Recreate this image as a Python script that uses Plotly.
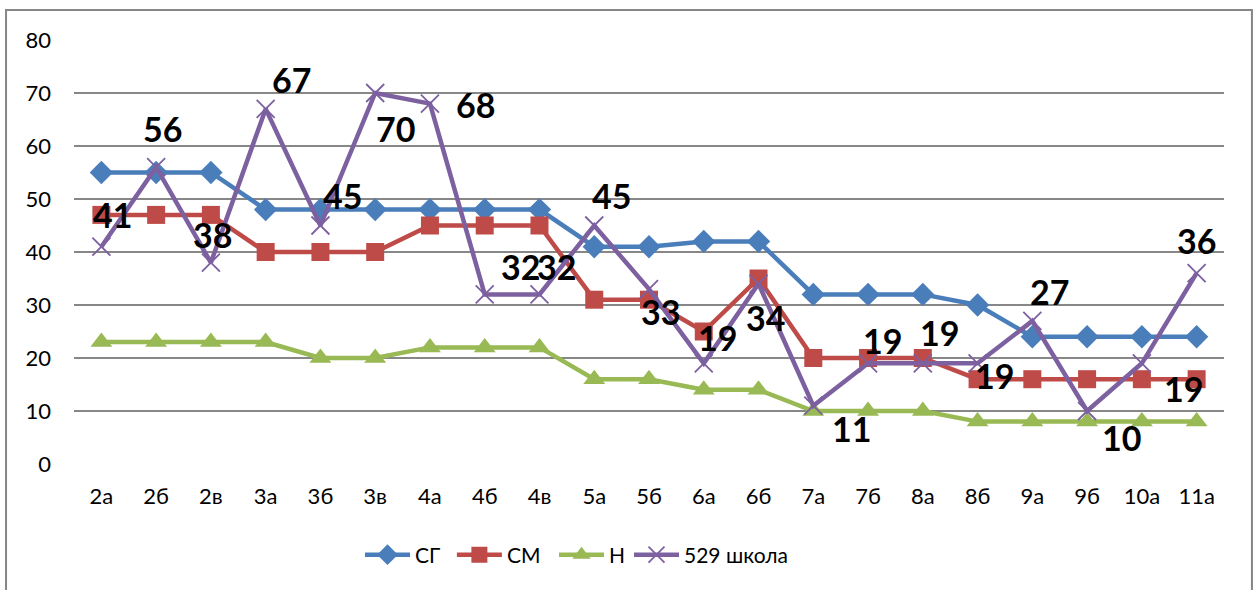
import plotly.graph_objects as go

categories = ["2а", "2б", "2в", "3а", "3б", "3в", "4а", "4б", "4в", "5а", "5б",
              "6а", "6б", "7а", "7б", "8а", "8б", "9а", "9б", "10а", "11а"]
sg = [55, 55, 55, 48, 48, 48, 48, 48, 48, 41, 41, 42, 42, 32, 32, 32, 30, 24, 24, 24, 24]
sm = [47, 47, 47, 40, 40, 40, 45, 45, 45, 31, 31, 25, 35, 20, 20, 20, 16, 16, 16, 16, 16]
n_vals = [23, 23, 23, 23, 20, 20, 22, 22, 22, 16, 16, 14, 14, 10, 10, 10, 8, 8, 8, 8, 8]
school = [41, 56, 38, 67, 45, 70, 68, 32, 32, 45, 33, 19, 34, 11, 19, 19, 19, 27, 10, 19, 36]
y_ticks = [0, 10, 20, 30, 40, 50, 60, 70, 80]

# label offsets in pixels (style only): (dx right, dy up)
label_shift = [(11, 32), (6, 39), (2, 28), (26, 29), (22, 30), (20, -35), (46, -1),
               (36, 28), (17, 28), (17, 30), (11, -22), (14, 26), (7, -34),
               (38, -23), (14, 23), (17, 31), (17, -12), (17, 29), (34, -26),
               (42, -25), (0, 33)]
# legend left positions in paper units (style only)
legend_x = [0.2487, 0.3286, 0.4174, 0.4826]

FONT = "Lato, Carlito, 'Liberation Sans', sans-serif"

fig = go.Figure()
fig.add_trace(go.Scatter(x=categories, y=sg, name="СГ", mode="lines+markers",
                         line=dict(color="#4A7EBB", width=4.5),
                         marker=dict(symbol="diamond", size=18, color="#4A7EBB"),
                         cliponaxis=False, legend="legend"))
fig.add_trace(go.Scatter(x=categories, y=sm, name="СМ", mode="lines+markers",
                         line=dict(color="#BE4B48", width=4.5),
                         marker=dict(symbol="square", size=18, color="#BE4B48"),
                         cliponaxis=False, legend="legend2"))
fig.add_trace(go.Scatter(x=categories, y=n_vals, name="Н", mode="lines+markers",
                         line=dict(color="#98B954", width=4.5),
                         marker=dict(symbol="triangle-up", size=19, color="#98B954"),
                         cliponaxis=False, legend="legend3"))
fig.add_trace(go.Scatter(x=categories, y=school, name="529 школа", mode="lines+markers",
                         line=dict(color="#7D60A0", width=4.5),
                         marker=dict(symbol="x-thin", size=18,
                                     line=dict(color="#7D60A0", width=1.8)),
                         cliponaxis=False, legend="legend4"))

for i, (c, v) in enumerate(zip(categories, school)):
    dx, dy = label_shift[i]
    fig.add_annotation(x=c, y=v, xref="x", yref="y", text=str(v), showarrow=False,
                       xshift=dx, yshift=dy,
                       font=dict(family=FONT, size=34, color="#000000", weight="bold"))

fig.add_shape(type="rect", xref="paper", yref="paper",
              x0=-0.0591, x1=1.0243, y0=-0.32, y1=1.0708,
              line=dict(color="#868686", width=2), fillcolor="rgba(0,0,0,0)", layer="below")

def leg(xpos):
    return dict(orientation="h", x=xpos, xanchor="left", y=-0.2146, yanchor="middle",
                font=dict(family=FONT, size=21), itemwidth=45, bgcolor="rgba(0,0,0,0)")

fig.update_layout(
    width=1254, height=590,
    margin=dict(l=74, r=30, t=40, b=126),
    paper_bgcolor="white", plot_bgcolor="white",
    font=dict(family=FONT, size=21, color="#000000"),
    showlegend=True,
    legend=leg(legend_x[0]), legend2=leg(legend_x[1]),
    legend3=leg(legend_x[2]), legend4=leg(legend_x[3]),
    xaxis=dict(type="category", range=[-0.5, 20.5], showgrid=False, showline=False,
               ticks="", zeroline=False, tickfont=dict(size=22), ticklabelstandoff=17),
    yaxis=dict(range=[0, 80], tickvals=y_ticks, showgrid=True, gridcolor="#878787",
               gridwidth=1.5, zeroline=False, showline=False, ticks="",
               tickfont=dict(size=22), ticklabelstandoff=22),
)

fig.write_html("out.html", config={"displayModeBar": False},
               post_script="document.body.style.margin='0px';")
